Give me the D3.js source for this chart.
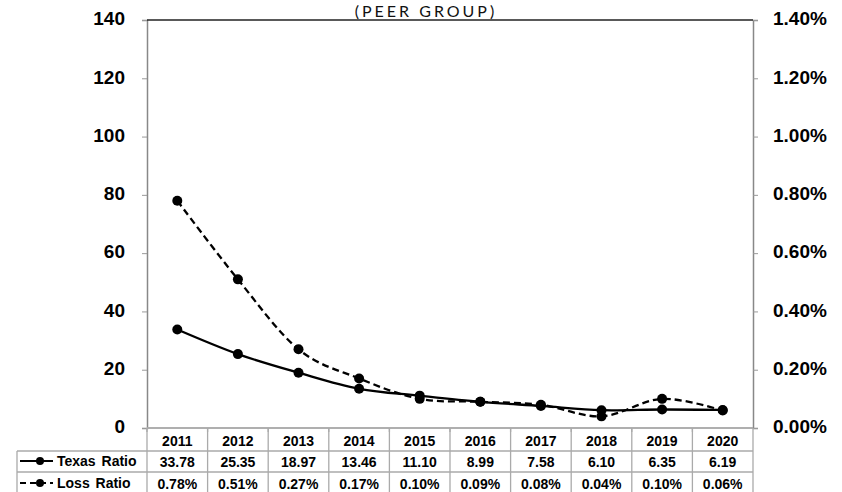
<!DOCTYPE html>
<html><head><meta charset="utf-8">
<script src="https://cdn.jsdelivr.net/npm/d3@7"></script>
<style>body{margin:0;background:#fff}svg{display:block}</style>
</head><body><svg id="c" width="842" height="492"></svg>
<script>
const years = ["2011","2012","2013","2014","2015","2016","2017","2018","2019","2020"];
const texasRatio = [33.78,25.35,18.97,13.46,11.10,8.99,7.58,6.10,6.35,6.19];
const lossRatio = [0.78,0.51,0.27,0.17,0.10,0.09,0.08,0.04,0.10,0.06];
const leftTicks = [0,20,40,60,80,100,120,140];
const rightTicks = [0,0.2,0.4,0.6,0.8,1.0,1.2,1.4];
const seriesNames = ["Texas Ratio","Loss Ratio"];
const title = "(PEER GROUP)";

const svg = d3.select("#c");
const L = 147, R = 753, T = 20, B = 428;
const x = d3.scaleBand().domain(years).range([L, R]);
const yL = d3.scaleLinear().domain([0,140]).range([B, T]);
const yR = d3.scaleLinear().domain([0,1.4]).range([B, T]);
const font = "'Liberation Sans', Arial, sans-serif";

svg.append("text").attr("x", 426).attr("y", 17).attr("text-anchor","middle")
  .attr("font-family","'Lato','Open Sans',sans-serif").attr("font-size",16).attr("letter-spacing",3).attr("fill","#111")
  .text(title);

// plot frame
const axL = svg.append("g").attr("transform",`translate(${L},0)`)
  .call(d3.axisLeft(yL).tickValues(leftTicks).tickSize(5).tickPadding(17).tickFormat(d3.format("d")));
const axR = svg.append("g").attr("transform",`translate(${R},0)`)
  .call(d3.axisRight(yR).tickValues(rightTicks).tickSize(5).tickPadding(15).tickFormat(d => d.toFixed(2)+"%"));
[axL, axR].forEach(a => {
  a.select(".domain").attr("stroke","#888").attr("stroke-width",1.5);
  a.selectAll(".tick line").attr("stroke","#999");
  a.selectAll(".tick text").attr("font-family",font).attr("font-weight","bold").attr("font-size",19).attr("fill","#000").attr("dy","0.25em");
});
svg.append("line").attr("x1",L).attr("x2",R).attr("y1",T).attr("y2",T).attr("stroke","#222").attr("stroke-width",1.3);
svg.append("line").attr("x1",L).attr("x2",R).attr("y1",B).attr("y2",B).attr("stroke","#aaa").attr("stroke-width",1.3);

// lines
const curve = d3.curveCatmullRom.alpha(0);
const cx = d => x(d) + x.bandwidth()/2;
const lineT = d3.line().x((d,i)=>cx(years[i])).y(d=>yL(d)).curve(curve);
const lineR = d3.line().x((d,i)=>cx(years[i])).y(d=>yR(d)).curve(curve);
svg.append("path").attr("d", lineR(lossRatio)).attr("fill","none").attr("stroke","#000").attr("stroke-width",2.3).attr("stroke-dasharray","7,4");
svg.append("path").attr("d", lineT(texasRatio)).attr("fill","none").attr("stroke","#000").attr("stroke-width",2.3);
svg.append("g").selectAll("circle").data(lossRatio).join("circle")
  .attr("cx",(d,i)=>cx(years[i])).attr("cy",d=>yR(d)).attr("r",5).attr("fill","#000");
svg.append("g").selectAll("circle").data(texasRatio).join("circle")
  .attr("cx",(d,i)=>cx(years[i])).attr("cy",d=>yL(d)).attr("r",5).attr("fill","#000");

// table
const rows = [B, 451, 472, 493];
const tl = 17;
const g = svg.append("g").attr("stroke","#aaa").attr("stroke-width",1.3);
g.append("line").attr("x1",L).attr("x2",R).attr("y1",rows[0]).attr("y2",rows[0]);
[1,2,3].forEach(k => g.append("line").attr("x1",tl).attr("x2",R).attr("y1",rows[k]).attr("y2",rows[k]));
g.append("line").attr("x1",tl).attr("x2",tl).attr("y1",rows[1]).attr("y2",rows[3]);
years.forEach((yv,i) => g.append("line").attr("x1",x(yv)).attr("x2",x(yv)).attr("y1",rows[0]).attr("y2",rows[3]));
g.append("line").attr("x1",R).attr("x2",R).attr("y1",rows[0]).attr("y2",rows[3]);
years.forEach(yv => g.append("line").attr("x1",x(yv)).attr("x2",x(yv)).attr("y1",B).attr("y2",B+4));

const txt = (xv, yv, s, anchor) => svg.append("text").attr("x",xv).attr("y",yv).attr("text-anchor",anchor||"middle")
  .attr("font-family",font).attr("font-weight","bold").attr("font-size",14).attr("fill","#000").text(s);
years.forEach((yv,i) => {
  txt(cx(yv), 446, yv);
  txt(cx(yv), 467, texasRatio[i].toFixed(2));
  txt(cx(yv), 489, lossRatio[i].toFixed(2)+"%");
});
// legend
[[461,null],[483,"6,4"]].forEach((r,k) => {
  svg.append("line").attr("x1",20).attr("x2",53).attr("y1",r[0]).attr("y2",r[0]).attr("stroke","#000").attr("stroke-width",2.2)
    .attr("stroke-dasharray",r[1]);
  svg.append("circle").attr("cx",40).attr("cy",r[0]).attr("r",4).attr("fill","#000");
  txt(57, r[0]+5, seriesNames[k], "start").attr("word-spacing",2);
});
</script></body></html>
